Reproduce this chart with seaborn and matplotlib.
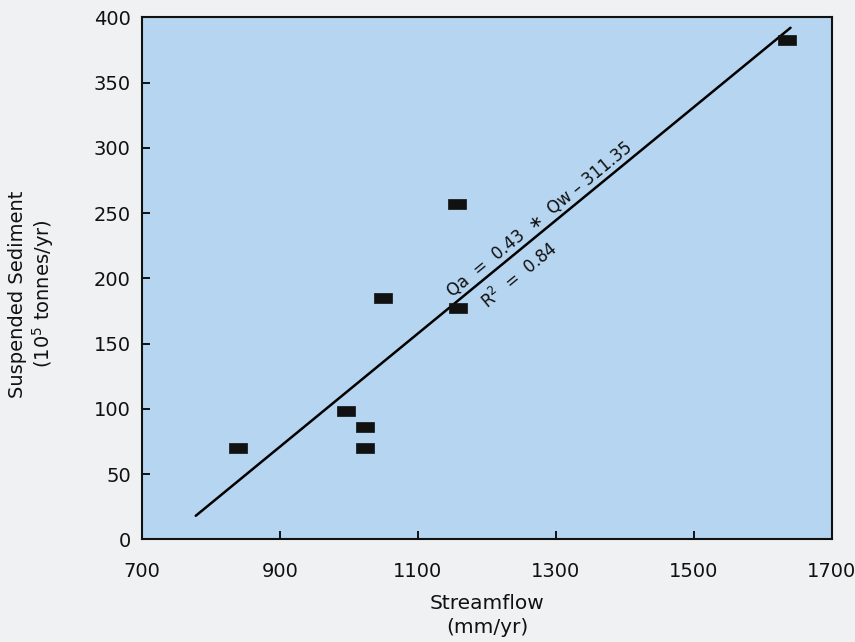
import numpy as np
import pandas as pd
import matplotlib
matplotlib.use("Agg")
import matplotlib.pyplot as plt
import seaborn as sns

# Values
streamflow = [839, 996, 1024, 1024, 1049, 1156, 1158, 1635]
sediment = [70, 98, 86, 70, 185, 257, 177, 383]

# fitted line, as drawn
line_x = [778, 1640]
line_y = [18, 392]

eq_text = "Qa  =  0.43  \u2217  Qw \u2013 311.35"
r2_text = "R$^2$  =  0.84"

x_ticks = [700, 900, 1100, 1300, 1500, 1700]
y_ticks = [0, 50, 100, 150, 200, 250, 300, 350, 400]

outer_bg = "#eff1f3"
plot_bg = "#b5d5f0"

sns.set_theme(style="ticks")
plt.rcParams["font.family"] = ["DejaVu Sans"]

fig = plt.figure(figsize=(8.55, 6.42), dpi=100, facecolor=outer_bg)
ax = fig.add_axes([0.166, 0.160, 0.807, 0.813])
ax.set_facecolor(plot_bg)

df = pd.DataFrame({"Streamflow": streamflow, "Sediment": sediment})
line_df = pd.DataFrame({"x": line_x, "y": line_y})

rect = [(-1, -0.62), (1, -0.62), (1, 0.62), (-1, 0.62), (-1, -0.62)]
sns.lineplot(data=line_df, x="x", y="y", color="black", linewidth=1.8, ax=ax)
sns.scatterplot(data=df, x="Streamflow", y="Sediment", marker=rect, s=150,
                color="#111111", edgecolor="#111111", linewidth=0.5, ax=ax, zorder=3)

ax.set_xlim(700, 1700)
ax.set_ylim(0, 400)
ax.set_xticks(x_ticks)
ax.set_yticks(y_ticks)
ax.tick_params(direction="in", length=6, width=1.4, labelsize=14, colors="#111111")
ax.tick_params(axis="x", pad=16)
ax.tick_params(axis="y", pad=8)
for sp in ax.spines.values():
    sp.set_color("#111111")
    sp.set_linewidth(1.5)

ax.set_xlabel("Streamflow\n(mm/yr)", fontsize=14.5, linespacing=1.3, color="#111111")
ax.set_ylabel("Suspended Sediment\n(10$^5$ tonnes/yr)", fontsize=14, linespacing=1.2,
              color="#111111")
ax.xaxis.set_label_coords(0.5, -0.105)
ax.yaxis.set_label_coords(-0.124, 0.47)

# angle of the fitted line on screen
p0 = ax.transData.transform((line_x[0], line_y[0]))
p1 = ax.transData.transform((line_x[1], line_y[1]))
angle = np.degrees(np.arctan2(p1[1] - p0[1], p1[0] - p0[0]))
slope = (line_y[1] - line_y[0]) / (line_x[1] - line_x[0])


def on_line(xv):
    return line_y[0] + slope * (xv - line_x[0])


ax.annotate(eq_text, xy=(1286, on_line(1286)), xytext=(-5, 6),
            textcoords="offset points", rotation=angle, rotation_mode="anchor",
            ha="center", va="center", fontsize=12, color="#111111")
ax.annotate(r2_text, xy=(1229, on_line(1229)), xytext=(9, -11),
            textcoords="offset points", rotation=angle, rotation_mode="anchor",
            ha="center", va="center", fontsize=12, color="#111111")

fig.savefig("out.png", dpi=100, facecolor=outer_bg)
